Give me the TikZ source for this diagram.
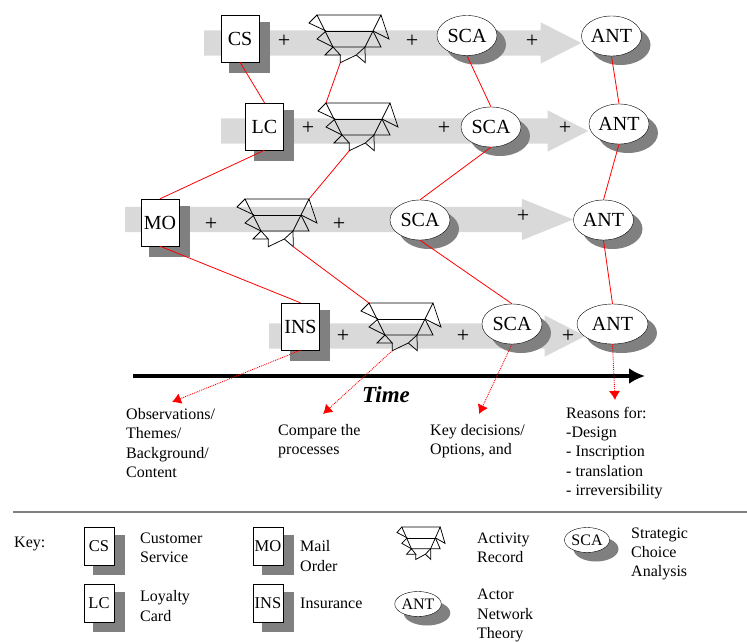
\documentclass[tikz,border=0pt]{standalone}
\usepackage{fontspec}
\setmainfont{Liberation Serif}
\usepackage{tikz}
\usetikzlibrary{arrows.meta,shapes.geometric,shapes.arrows,shadows,positioning,calc}
\definecolor{bandgray}{gray}{0.85}
\definecolor{shadowgray}{gray}{0.5}
\tikzset{
	flowarrow/.style={single arrow, fill=bandgray, anchor=tail, inner xsep=0pt, inner ysep=12.5pt, single arrow head extend=8pt, single arrow tip angle=54},
	sheet/.style={rectangle, draw, fill=white, inner sep=0pt, font=\fontsize{20}{20}\selectfont, minimum width=38pt, minimum height=47pt, drop shadow={shadow xshift=9pt, shadow yshift=-8.5pt, shadow scale=1.07, fill=shadowgray, opacity=1}},
	keysheet/.style={sheet, font=\fontsize{16.5}{17}\selectfont, minimum width=30pt, minimum height=38pt},
	choice/.style={ellipse, draw, fill=white, inner sep=0pt, font=\fontsize{20}{20}\selectfont, minimum width=60pt, minimum height=40pt, drop shadow={shadow xshift=9pt, shadow yshift=-9pt, fill=shadowgray, opacity=1}},
	keychoice/.style={choice, font=\fontsize{16}{16}\selectfont, minimum width=45pt, minimum height=25pt},
	plus/.style={font=\fontsize{22}{22}\selectfont, inner sep=0pt},
	label/.style={font=\fontsize{16}{19.2}\selectfont, align=left, anchor=west, inner sep=0pt},
	link/.style={red, line width=0.8pt},
	note/.style={red, densely dotted, line width=0.9pt, -{Latex[length=9pt,width=11pt]}},
	actrec/.pic={
		\draw[line width=0.75pt] (-32,0) -- (32,0) -- (16,32) -- (-16,32) -- cycle;
		\draw[line width=0.75pt] (-23,16) -- (24,16);
		\draw[line width=0.75pt] (-32,0) -- (-40,8) -- (-23,16);
		\draw[line width=0.75pt] (32,0) -- (40,24) -- (24,16);
		\draw[line width=0.75pt] (-23,16) -- (-32,24) -- (-16,32);
		\draw[line width=0.75pt] (24,16) -- (32,32) -- (16,32);
		\draw[line width=0.75pt] (-16,32) -- (-24,40) -- (-8.7,40) -- (-16,32);
		\draw[line width=0.75pt] (-8.7,40) -- (-8.7,47.7) -- (7.3,40) -- (16.3,47.7) -- (16,32) -- (7.3,40);
		\coordinate (-apex) at (-8.7,47.7);
		\coordinate (-spike) at (16.3,47.7);
		\coordinate (-left) at (-32,0);
		\coordinate (-right) at (32,0);
	}
}
\begin{document}
\begin{tikzpicture}[x=1pt,y=-1pt]
		\useasboundingbox (0,0) rectangle (747,642);
		% bands
		\node[flowarrow, minimum height=377pt] (F1) at (204,43) {};
		\node[flowarrow, minimum height=367pt] (F2) at (221,131) {};
		\node[flowarrow, minimum height=448pt, single arrow tip angle=44] (F3) at (125,219.5) {};
		\node[flowarrow, minimum height=316pt] (F4) at (269,336) {};
		% row 1
		\node[sheet] (CS) at (240,38.5) {CS};
		\pic (A1) at (349,15) {actrec};
		\node[choice] (S1) at (467,35.5) {SCA};
		\node[choice] (N1) at (611.5,36) {ANT};
		% row 2
		\node[sheet] (LC) at (264.5,126.5) {LC};
		\pic (A2) at (358,103) {actrec};
		\node[choice] (S2) at (491,127) {SCA};
		\node[choice] (N2) at (619,124) {ANT};
		% row 3
		\node[sheet] (MO) at (160,222.5) {MO};
		\pic (A3) at (277,199) {actrec};
		\node[choice] (S3) at (420,220) {SCA};
		\node[choice] (N3) at (603.5,220) {ANT};
		% row 4
		\node[sheet] (INS) at (300.5,326.5) {INS};
		\pic (A4) at (401,303) {actrec};
		\node[choice] (S4) at (512,324) {SCA};
		\node[choice, minimum width=71pt] (N4) at (612.5,324) {ANT};
		% plus signs
		\node[plus] (p11) at (284,41) {+};
		\node[plus] (p12) at (412,41) {+};
		\node[plus] (p13) at (532,41) {+};
		\node[plus] (p21) at (308,128) {+};
		\node[plus] (p22) at (444,128) {+};
		\node[plus] (p23) at (565,128) {+};
		\node[plus] (p31) at (211,224) {+};
		\node[plus] (p32) at (339,224) {+};
		\node[plus] (p33) at (523,216) {+};
		\node[plus] (p41) at (343,336) {+};
		\node[plus] (p42) at (463,336) {+};
		\node[plus] (p43) at (568,336) {+};
		% links
		\draw[link] (CS.south) -- (LC.north);
		\draw[link] (LC.south) -- (MO.north);
		\draw[link] (MO.south) -- (INS.north);
		\draw[link] (A1-apex) -- (A2-left);
		\draw[link] (A2-apex) -- (A3-right);
		\draw[link] (A3-spike) -- (A4-left);
		\draw[link] (S1.south) -- (S2.north);
		\draw[link] (S2.south) -- (S3.north);
		\draw[link] (S3.south) -- (S4.north);
		\draw[link] (N1.south) -- (N2.north);
		\draw[link] (N2.south) -- (N3.north);
		\draw[link] (N3.south) -- (N4.north);
		% time axis
		\coordinate (t0) at (133,376);
		\coordinate (t1) at (645,376);
		\draw[line width=4pt, -{Latex[length=16pt,width=16pt]}] (t0) -- (t1);
		\node[font=\fontsize{23}{23}\selectfont\bfseries\itshape, inner sep=0pt] (time) at (386,395) {Time};
		% notes
		\coordinate (n1) at (172,402);
		\coordinate (n2) at (323,414);
		\coordinate (n3) at (479,414);
		\coordinate (n4) at (615,400);
		\draw[note] (INS.south) -- (n1);
		\draw[note] (A4-apex) -- (n2);
		\draw[note] (S4.south) -- (n3);
		\draw[note] (N4.south) -- (n4);
		\node[label] (l1) at (126,443) {Observations/\\Themes/\\Background/\\Content};
		\node[label] (l2) at (278,441) {Compare the\\processes};
		\node[label] (l3) at (430,441) {Key decisions/\\Options, and};
		\node[label] (l4) at (566,453) {Reasons for:\\-Design\\- Inscription\\- translation\\- irreversibility};
		% key
		\coordinate (r0) at (13,512);
		\coordinate (r1) at (747,512);
		\draw[shadowgray, line width=2pt] (r0) -- (r1);
		\node[label] (k0) at (14,544) {Key:};
		\node[keysheet] (kCS) at (99,546) {CS};
		\node[label] (k1) at (140,548) {Customer\\Service};
		\node[keysheet] (kLC) at (99,603) {LC};
		\node[label] (k2) at (140,606) {Loyalty\\Card};
		\node[keysheet] (kMO) at (268,546) {MO};
		\node[label] (k3) at (300,556) {Mail\\Order};
		\node[keysheet] (kINS) at (268,603) {INS};
		\node[label] (k4) at (300,603) {Insurance};
		\pic[xscale=0.6,yscale=0.68] (kA) at (421,527) {actrec};
		\node[label] (k5) at (477,548) {Activity\\Record};
		\node[keychoice] (kN) at (418,604) {ANT};
		\node[label] (k6) at (477,615.5) {Actor\\Network\\Theory};
		\node[keychoice] (kS) at (587,540) {SCA};
		\node[label] (k7) at (631,554) {Strategic\\Choice\\Analysis};
	\end{tikzpicture}
\end{document}
